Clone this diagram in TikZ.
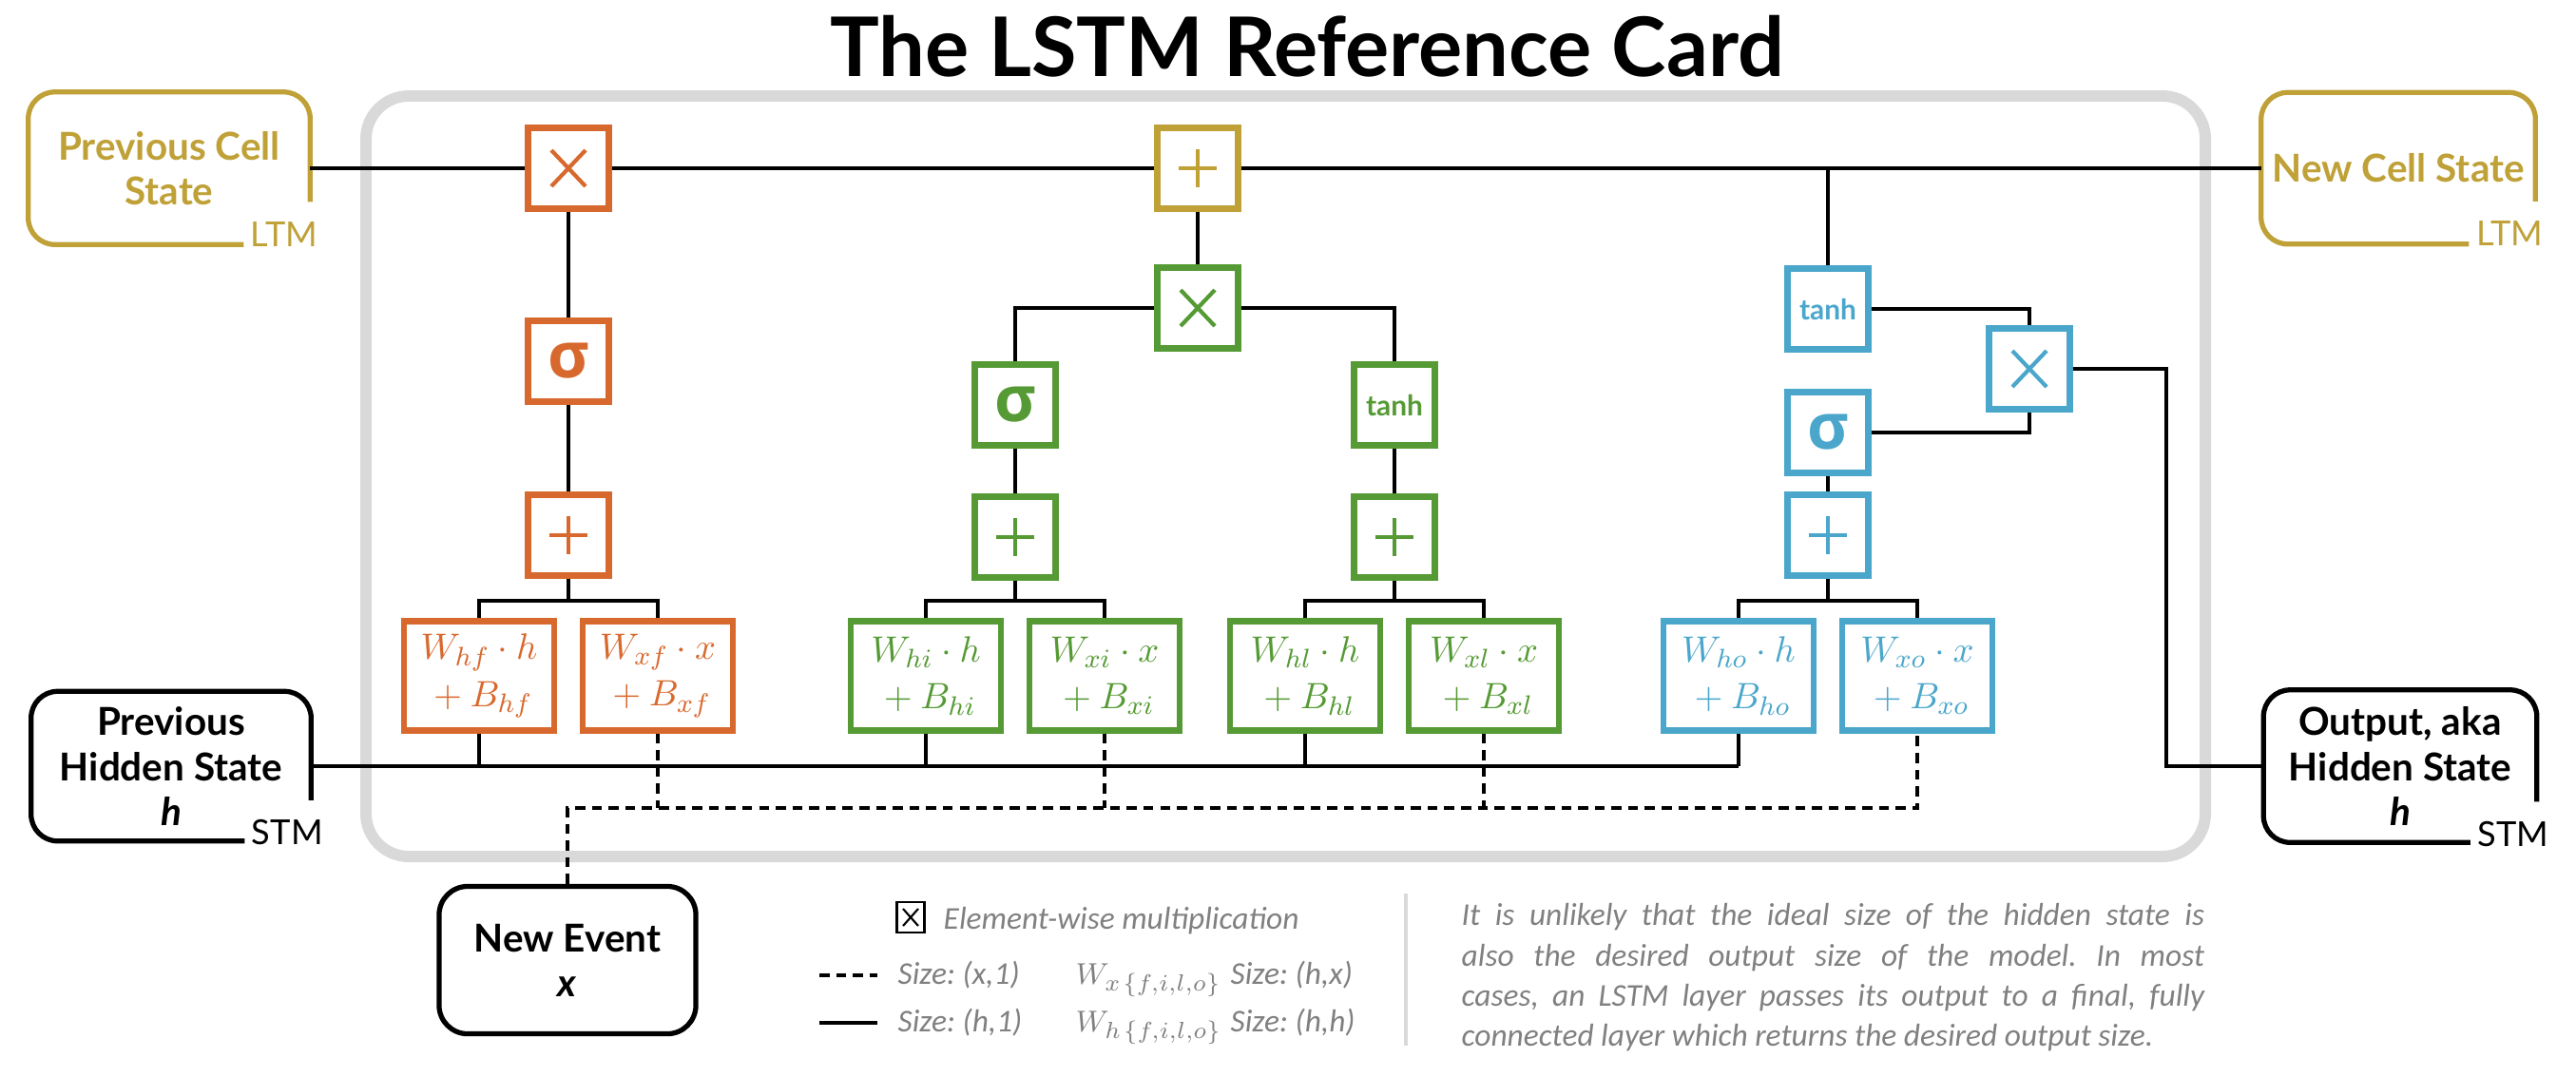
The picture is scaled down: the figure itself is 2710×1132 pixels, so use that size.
\documentclass[tikz,border=0pt]{standalone}
\usepackage{fontspec}
\setmainfont{Lato}
\newfontfamily\notefont{Carlito}
\newfontfamily\greekfont{Open Sans}
\usepackage{tikz}
\usetikzlibrary{calc}
\definecolor{cGold}{RGB}{191,161,56}
\definecolor{cOrange}{RGB}{216,105,46}
\definecolor{cGreen}{RGB}{85,154,52}
\definecolor{cBlue}{RGB}{74,166,203}
\definecolor{cNote}{RGB}{128,128,128}
\definecolor{cFrame}{RGB}{217,217,217}
\frenchspacing
\tikzset{
	wire/.style     ={line width=1pt},
	xwire/.style    ={line width=1pt, dash pattern=on 3pt off 2pt},
	frame/.style    ={draw=cFrame, line width=3.4pt, rounded corners=0.45cm},
	openbox/.style  ={line width=1.5pt, rounded corners=0.28cm},
	statebox/.style ={rectangle, inner sep=0pt, align=center, font=\bfseries\fontsize{11.5}{13.4}\selectfont},
	memlabel/.style ={anchor=base west, inner sep=0pt, font=\fontsize{10.3}{12}\selectfont},
	gate/.style     ={rectangle, draw, line width=1.8pt, minimum size=0.85cm, inner sep=0pt},
	wbox/.style     ={rectangle, draw, line width=1.8pt, minimum width=1.58cm, minimum height=1.15cm, inner sep=0pt, align=center, font=\fontsize{11}{14}\selectfont},
	mulsym/.style   ={path picture={\draw[line width=1.2pt] ($(path picture bounding box.center)+(-18,-19)$) -- ++(36,38) ($(path picture bounding box.center)+(18,-19)$) -- ++(-36,38);}},
	addsym/.style   ={path picture={\draw[line width=1.2pt] ($(path picture bounding box.center)+(-20,0)$) -- ++(40,0) ($(path picture bounding box.center)+(0,-20)$) -- ++(0,40);}},
	siggate/.style  ={gate, font=\greekfont\bfseries\fontsize{19}{19}\selectfont},
	tanhgate/.style ={gate, font=\bfseries\fontsize{8.5}{9}\selectfont},
	note/.style     ={cNote, inner sep=0pt, font=\notefont\itshape\fontsize{9.5}{12}\selectfont},
}
\begin{document}
\begin{tikzpicture}[x=0.01cm, y=-0.01cm]
	\useasboundingbox (0,0) rectangle (2710,1132);
	\node[anchor=base, font=\bfseries\fontsize{24.6}{30}\selectfont] (title) at (1375,80) {The LSTM Reference Card};
	\draw[frame] (385,101) rectangle (2320,901);

	% memory states
	\node[statebox, cGold, minimum width=2.95cm, minimum height=1.59cm] (pcs) at (178,177) {Previous Cell\\State};
	\node[statebox, cGold, minimum width=2.87cm, minimum height=1.58cm] (ncs) at (2523,177) {New Cell State};
	\node[statebox, minimum width=2.93cm, minimum height=1.56cm] (phs) at (180,806) {Previous\\Hidden State\\\textit{h}};
	\node[statebox, minimum width=2.86cm, minimum height=1.59cm] (out) at (2525,806) {Output, aka\\Hidden State\\\textit{h}};
	\node[statebox, draw, line width=1.5pt, rounded corners=0.3cm, minimum width=2.7cm, minimum height=1.55cm] (nev) at (597,1010) {New Event\\\textit{x}};
	\draw[openbox, cGold] ($(pcs.south east)+(0,-45)$) |- (pcs.north west) |- ($(pcs.south east)+(-70,0)$);
	\node[memlabel, cGold] at ($(pcs.south east)+(-63,2)$) {LTM};
	\draw[openbox, cGold] ($(ncs.south east)+(0,-45)$) |- (ncs.north west) |- ($(ncs.south east)+(-70,0)$);
	\node[memlabel, cGold] at ($(ncs.south east)+(-63,2)$) {LTM};
	\draw[openbox] ($(phs.south east)+(0,-43)$) |- (phs.north west) |- ($(phs.south east)+(-70,0)$);
	\node[memlabel] at ($(phs.south east)+(-63,4)$) {STM};
	\draw[openbox] ($(out.south east)+(0,-43)$) |- (out.north west) |- ($(out.south east)+(-70,0)$);
	\node[memlabel] at ($(out.south east)+(-63,4)$) {STM};

	% forget gate
	\node[gate, cOrange, mulsym] (fx) at (598,177) {};
	\node[siggate, cOrange] (fs) at (598,380) {σ};
	\node[gate, cOrange, addsym] (fp) at (598,563) {};
	\node[wbox, cOrange] (whf) at (504,711) {$W_{hf}\cdot h$\\${}+B_{hf}$};
	\node[wbox, cOrange] (wxf) at (692,711) {$W_{xf}\cdot x$\\${}+B_{xf}$};
	% input gate and candidate
	\node[gate, cGold, addsym] (cp) at (1260,177) {};
	\node[gate, cGreen, mulsym] (ix) at (1260,324) {};
	\node[siggate, cGreen] (is) at (1068,426) {σ};
	\node[gate, cGreen, addsym] (ip) at (1068,565) {};
	\node[wbox, cGreen] (whi) at (974,711) {$W_{hi}\cdot h$\\${}+B_{hi}$};
	\node[wbox, cGreen] (wxi) at (1162,711) {$W_{xi}\cdot x$\\${}+B_{xi}$};
	\node[tanhgate, cGreen] (ct) at (1467,426) {tanh};
	\node[gate, cGreen, addsym] (cpl) at (1467,565) {};
	\node[wbox, cGreen] (whl) at (1373,711) {$W_{hl}\cdot h$\\${}+B_{hl}$};
	\node[wbox, cGreen] (wxl) at (1561,711) {$W_{xl}\cdot x$\\${}+B_{xl}$};
	% output gate
	\node[tanhgate, cBlue] (ot) at (1923,325) {tanh};
	\node[gate, cBlue, mulsym] (ox) at (2135,388) {};
	\node[siggate, cBlue] (os) at (1923,455) {σ};
	\node[gate, cBlue, addsym] (op) at (1923,563) {};
	\node[wbox, cBlue] (who) at (1829,711) {$W_{ho}\cdot h$\\${}+B_{ho}$};
	\node[wbox, cBlue] (wxo) at (2017,711) {$W_{xo}\cdot x$\\${}+B_{xo}$};

	% cell line
	\draw[wire] (pcs) -- (fx); \draw[wire] (fx) -- (cp); \draw[wire] (cp) -- (ncs);
	\draw[wire] (fx) -- (fs); \draw[wire] (fs) -- (fp);
	\draw[wire] (cp) -- (ix);
	\draw[wire] (is.north) |- (ix.west); \draw[wire] (ct.north) |- (ix.east);
	\draw[wire] (is) -- (ip); \draw[wire] (ct) -- (cpl);
	\draw[wire] (ot.north) -- (ot.north |- cp.center);
	\draw[wire] (ot.east) -| (ox.north); \draw[wire] (os.east) -| (ox.south);
	\draw[wire] (os) -- (op);
	% branches to weights
	\coordinate (fb) at (598,632); \coordinate (ib) at (1068,632);
	\coordinate (cb) at (1467,632); \coordinate (ob) at (1923,632);
	\draw[wire] (fp) -- (fb); \draw[wire] (whf.north) |- (fb) -| (wxf.north);
	\draw[wire] (ip) -- (ib); \draw[wire] (whi.north) |- (ib) -| (wxi.north);
	\draw[wire] (cpl) -- (cb); \draw[wire] (whl.north) |- (cb) -| (wxl.north);
	\draw[wire] (op) -- (ob); \draw[wire] (who.north) |- (ob) -| (wxo.north);
	% hidden state and output
	\coordinate (hl) at (1829,806);
	\draw[wire] (phs.east) -- (hl);
	\draw[wire] (whf.south) -- (whf.south |- hl); \draw[wire] (whi.south) -- (whi.south |- hl);
	\draw[wire] (whl.south) -- (whl.south |- hl); \draw[wire] (who.south) -- (hl);
	\coordinate (oturn) at (2279,806);
	\draw[wire] (ox.east) -| (oturn) -- (out.west);
	% new event
	\coordinate (xl) at (597,850);
	\draw[xwire] (nev.north) -- (xl) -| (wxo.south);
	\draw[xwire] (wxf.south) -- (wxf.south |- xl); \draw[xwire] (wxi.south) -- (wxi.south |- xl);
	\draw[xwire] (wxl.south) -- (wxl.south |- xl);

	% legend
	\node[draw, line width=0.6pt, minimum width=0.29cm, minimum height=0.32cm, inner sep=0pt,
		path picture={\draw[line width=0.6pt] ($(path picture bounding box.center)+(-8,-9)$) -- ++(16,18) ($(path picture bounding box.center)+(8,-9)$) -- ++(-16,18);}] (lgx) at (958,965) {};
	\node[note, anchor=base west] (lgm) at (992,977) {Element-wise multiplication};
	\coordinate (lda) at (862,1026); \coordinate (ldb) at (923,1026);
	\coordinate (lsa) at (862,1076); \coordinate (lsb) at (923,1076);
	\draw[xwire] (lda) -- (ldb);
	\draw[wire] (lsa) -- (lsb);
	\node[note, anchor=base west] (lx1) at (944,1035) {Size: (x,1)};
	\node[note, anchor=base west] (lx2) at (1131,1035) {$W_{x\mkern2mu\{f,i,l,o\}}$};
	\node[note, anchor=base west] (lx3) at (1294,1035) {Size: (h,x)};
	\node[note, anchor=base west] (lh1) at (944,1085) {Size: (h,1)};
	\node[note, anchor=base west] (lh2) at (1131,1085) {$W_{h\mkern2mu\{f,i,l,o\}}$};
	\node[note, anchor=base west] (lh3) at (1294,1085) {Size: (h,h)};
	\coordinate (dva) at (1479,940); \coordinate (dvb) at (1479,1100);
	\draw[cFrame, line width=0.9pt] (dva) -- (dvb);
	\node[note, anchor=north west, text width=7.81cm, align=justify] (remark) at (1537,950)
		{It is unlikely that the ideal size of the hidden state is\linebreak also the desired output size of the model. In most\linebreak cases, an LSTM layer passes its output to a final, fully\linebreak connected layer which returns the desired output size.};
\end{tikzpicture}
\end{document}
